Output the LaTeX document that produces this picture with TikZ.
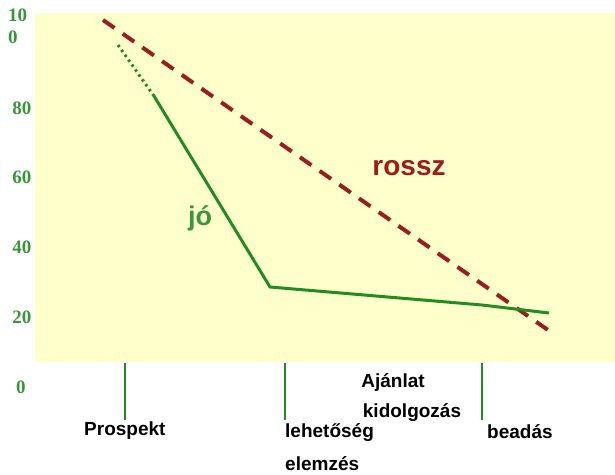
\documentclass[tikz,border=0pt]{standalone}
\usepackage{fontspec}
\setmainfont{Liberation Sans}
\newfontfamily\numfont{Liberation Serif}
\definecolor{bgyellow}{RGB}{255,255,204}
\definecolor{gline}{RGB}{34,140,34}
\definecolor{glabel}{RGB}{58,150,58}
\definecolor{rline}{RGB}{155,30,30}
\begin{document}
\begin{tikzpicture}[x=1pt,y=-1pt,
  ynum/.style={font=\numfont\bfseries\fontsize{19}{19}\selectfont, text=glabel, inner sep=0pt},
  cat/.style={font=\bfseries\fontsize{19}{19}\selectfont, text=black, inner sep=0pt},
  tick/.style={draw=gline, line width=1.6pt},
  good/.style={draw=gline, line width=3pt, line join=round},
  bad/.style={draw=rline, line width=4pt, dash pattern=on 14pt off 10pt}]
\useasboundingbox (0,0) rectangle (615,474);
\fill[bgyellow] (35,13) rectangle (615,362);
% y labels
\node[ynum, anchor=west] (y100a) at (8,15) {10};
\node[ynum, anchor=west] (y100b) at (8,37) {0};
\node[ynum] (y80) at (22,108) {80};
\node[ynum] (y60) at (22,177) {60};
\node[ynum] (y40) at (22,247) {40};
\node[ynum] (y20) at (22,317) {20};
\node[ynum] (y0) at (21,387) {0};
% ticks
\coordinate (t1a) at (125,363); \coordinate (t1b) at (125,420);
\coordinate (t2a) at (285,363); \coordinate (t2b) at (285,420);
\coordinate (t3a) at (482,363); \coordinate (t3b) at (482,420);
\draw[tick] (t1a) -- (t1b);
\draw[tick] (t2a) -- (t2b);
\draw[tick] (t3a) -- (t3b);
% bad line
\coordinate (r1) at (103,20);
\coordinate (r2) at (548,330);
\draw[bad] (r1) -- (r2);
% good line
\coordinate (g0) at (118,45);
\coordinate (g1) at (154,96);
\coordinate (g2) at (270,287);
\coordinate (g3) at (482,305);
\coordinate (g4) at (549,313);
\draw[draw=gline, line width=3pt, dash pattern=on 2.5pt off 3.5pt] (g0) -- (g1);
\draw[good] (g1) -- (g2) -- (g3) -- (g4);
% labels
\node[font=\bfseries\fontsize{28}{28}\selectfont, text=rline, inner sep=0pt] (rossz) at (409,168) {rossz};
\node[font=\bfseries\fontsize{27}{27}\selectfont, text=glabel, inner sep=0pt] (jo) at (200,218) {jó};
\node[cat, anchor=west] (prosp) at (84,431) {Prospekt};
\node[cat, anchor=west] (leh) at (285,433) {lehetőség};
\node[cat, anchor=west] (elem) at (285,464) {elemzés};
\node[cat] (ajan) at (393,382) {Ajánlat};
\node[cat] (kidol) at (412,413) {kidolgozás};
\node[cat, anchor=west] (bead) at (487,432) {beadás};
\end{tikzpicture}
\end{document}
